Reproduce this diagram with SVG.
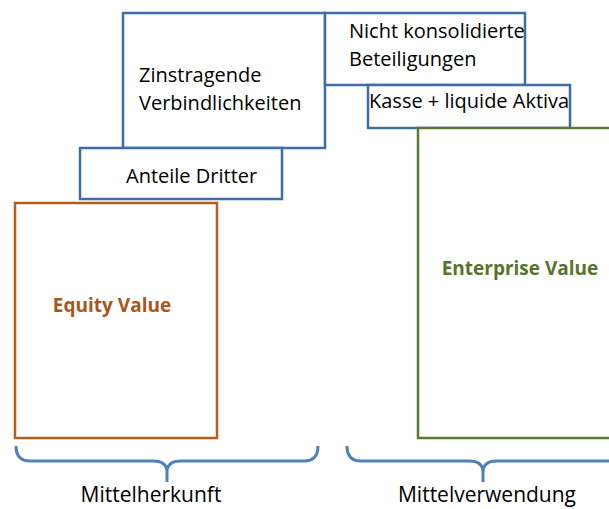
<svg xmlns="http://www.w3.org/2000/svg" width="609" height="509" viewBox="0 0 609 509">
<style>
.box{fill:#fff;stroke:#3F6EA6;stroke-width:2.5}
.t{font-family:"Open Sans","Liberation Sans",sans-serif;font-size:20px;fill:#000}
.l{font-family:"Open Sans","Liberation Sans",sans-serif;font-size:21px;fill:#000}
.b{font-family:"Open Sans","Liberation Sans",sans-serif;font-size:19px;font-weight:bold}
.brace{fill:none;stroke:#4F81BD;stroke-width:3}
</style>
<rect width="609" height="509" fill="#fff"/>
<g id="zins"><rect class="box" x="123" y="13" width="202" height="135"/>
<text class="t" x="139" y="82">Zinstragende</text><text class="t" x="139" y="110">Verbindlichkeiten</text></g>
<g id="nicht"><rect class="box" x="325" y="13" width="200" height="72"/>
<text class="t" x="349" y="38">Nicht konsolidierte</text><text class="t" x="349" y="66">Beteiligungen</text></g>
<g id="kasse"><rect class="box" x="368" y="85" width="202" height="43"/>
<text class="t" x="369" y="108">Kasse + liquide Aktiva</text></g>
<g id="anteile"><rect class="box" x="80" y="148" width="202" height="51"/>
<text class="t" x="126" y="183">Anteile Dritter</text></g>
<g id="equity"><rect x="15" y="203" width="202" height="235" fill="#fff" stroke="#B35E1B" stroke-width="2.5"/>
<text class="b" x="112" y="312" text-anchor="middle" fill="#A9561B">Equity Value</text></g>
<g id="enterprise"><rect x="418" y="128" width="200" height="310" fill="#fff" stroke="#5B7A2F" stroke-width="2.5"/>
<text class="b" x="520" y="275" text-anchor="middle" fill="#56742C">Enterprise Value</text></g>
<g id="connectors">
<path class="brace" d="M16,446 Q16,461 30,461 L153,461 Q167,461 167,472 L167,482 M167,472 Q167,461 181,461 L304,461 Q318,461 318,446"/>
<path class="brace" d="M347,446 Q347,461 361,461 L469,461 Q483,461 483,472 L483,482 M483,472 Q483,461 497,461 L620,461"/>
</g>
<text class="l" x="151" y="502" text-anchor="middle">Mittelherkunft</text>
<text class="l" x="487" y="502" text-anchor="middle">Mittelverwendung</text>
</svg>
